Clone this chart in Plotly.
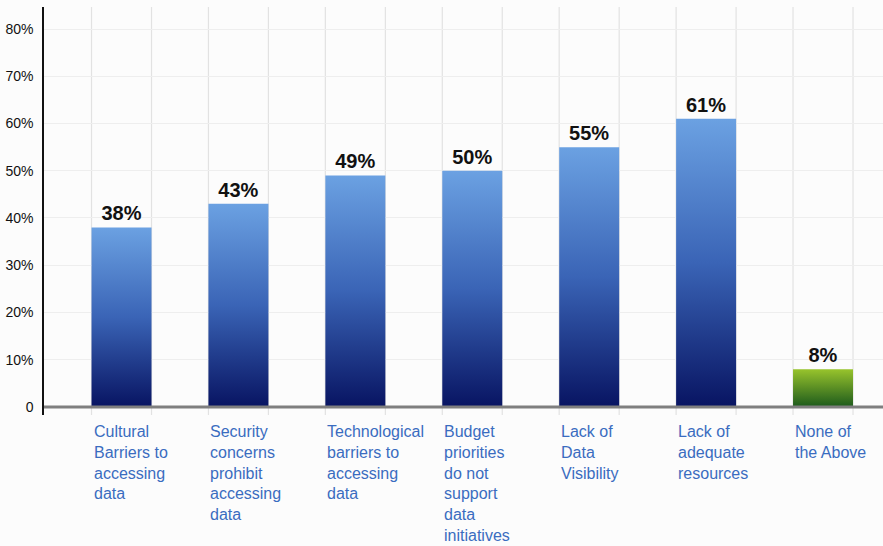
import plotly.graph_objects as go

categories = [
    "Cultural<br>Barriers to<br>accessing<br>data",
    "Security<br>concerns<br>prohibit<br>accessing<br>data",
    "Technological<br>barriers to<br>accessing<br>data",
    "Budget<br>priorities<br>do not<br>support<br>data<br>initiatives",
    "Lack of<br>Data<br>Visibility",
    "Lack of<br>adequate<br>resources",
    "None of<br>the Above",
]
values = [38, 43, 49, 50, 55, 61, 8]
bar_labels = ["38%", "43%", "49%", "50%", "55%", "61%", "8%"]
bar_kinds = ["blue", "blue", "blue", "blue", "blue", "blue", "green"]
y_tickvals = [0, 10, 20, 30, 40, 50, 60, 70, 80]
y_ticktext = ["0", "10%", "20%", "30%", "40%", "50%", "60%", "70%", "80%"]

FONT = "Arial, 'Liberation Sans', Helvetica, sans-serif"
BAR_W = 0.513
idx = list(range(len(categories)))

fill_solid = {"blue": "#3a62b4", "green": "#5a8e24"}

fig = go.Figure()
fig.add_trace(go.Bar(
    x=idx,
    y=values,
    width=BAR_W,
    text=bar_labels,
    textposition="outside",
    cliponaxis=False,
    textfont=dict(family=FONT, size=20, color="#111111", weight="bold"),
    marker=dict(color=[fill_solid[k] for k in bar_kinds], line=dict(width=0)),
    hoverinfo="skip",
))

shapes = []
# vertical gridlines at bar edges (extend slightly below baseline as ticks)
for i in idx:
    for dx in (-BAR_W / 2, BAR_W / 2):
        shapes.append(dict(type="line", xref="x", yref="paper",
                           x0=i + dx, x1=i + dx, y0=0, y1=1,
                           line=dict(color="#e2e2e2", width=1.2), layer="below"))
# baseline
shapes.append(dict(type="line", xref="paper", yref="y", x0=0, x1=1, y0=0, y1=0,
                   line=dict(color="#7f7f7f", width=3), layer="above"))

annotations = []
for i, c in zip(idx, categories):
    annotations.append(dict(
        x=i - BAR_W / 2, xref="x", xanchor="left",
        y=-0.014, yref="paper", yanchor="top",
        text=c, align="left", showarrow=False,
        font=dict(family=FONT, size=16, color="#3a6cc0"),
    ))

fig.update_layout(
    width=883, height=546,
    margin=dict(l=44, r=0, t=7, b=131),
    paper_bgcolor="#fcfcfc",
    plot_bgcolor="#fcfcfc",
    showlegend=False,
    bargap=0.49,
    shapes=shapes,
    annotations=annotations,
    xaxis=dict(range=[-0.663, 6.513], showticklabels=False, showgrid=False,
               zeroline=False, showline=False, ticks="", fixedrange=True),
    yaxis=dict(range=[-1.7, 84.66], tickvals=y_tickvals, ticktext=y_ticktext,
               showgrid=True, gridcolor="#eeeeee", gridwidth=1, zeroline=False,
               showline=True, linecolor="#111111", linewidth=1.5,
               ticks="", ticklabelstandoff=6,
               tickfont=dict(family=FONT, size=14, color="#111111")),
    font=dict(family=FONT),
)

post_script = """
var gd = document.getElementById('{plot_id}');
var svg = gd.querySelector('svg.main-svg');
var ns = 'http://www.w3.org/2000/svg';
var defs = svg.querySelector('defs') || svg.insertBefore(document.createElementNS(ns,'defs'), svg.firstChild);
function mk(id, top, mid, bot){
  var g = document.createElementNS(ns,'linearGradient');
  g.setAttribute('id', id); g.setAttribute('x1','0'); g.setAttribute('y1','0');
  g.setAttribute('x2','0'); g.setAttribute('y2','1');
  [[0,top],[0.5,mid],[1,bot]].forEach(function(s){
    var st = document.createElementNS(ns,'stop');
    st.setAttribute('offset', s[0]); st.setAttribute('stop-color', s[1]);
    g.appendChild(st);
  });
  defs.appendChild(g);
}
mk('gradblue', '#6ba1e2', '#3a64b6', '#081462');
mk('gradgreen', '#98c42c', '#5a8e24', '#1c5a1c');
var paths = gd.querySelectorAll('.barlayer .point path');
paths.forEach(function(p, i){
  p.style.fill = (i === paths.length - 1) ? 'url(#gradgreen)' : 'url(#gradblue)';
});
"""

fig.write_html("out.html", post_script=post_script)
